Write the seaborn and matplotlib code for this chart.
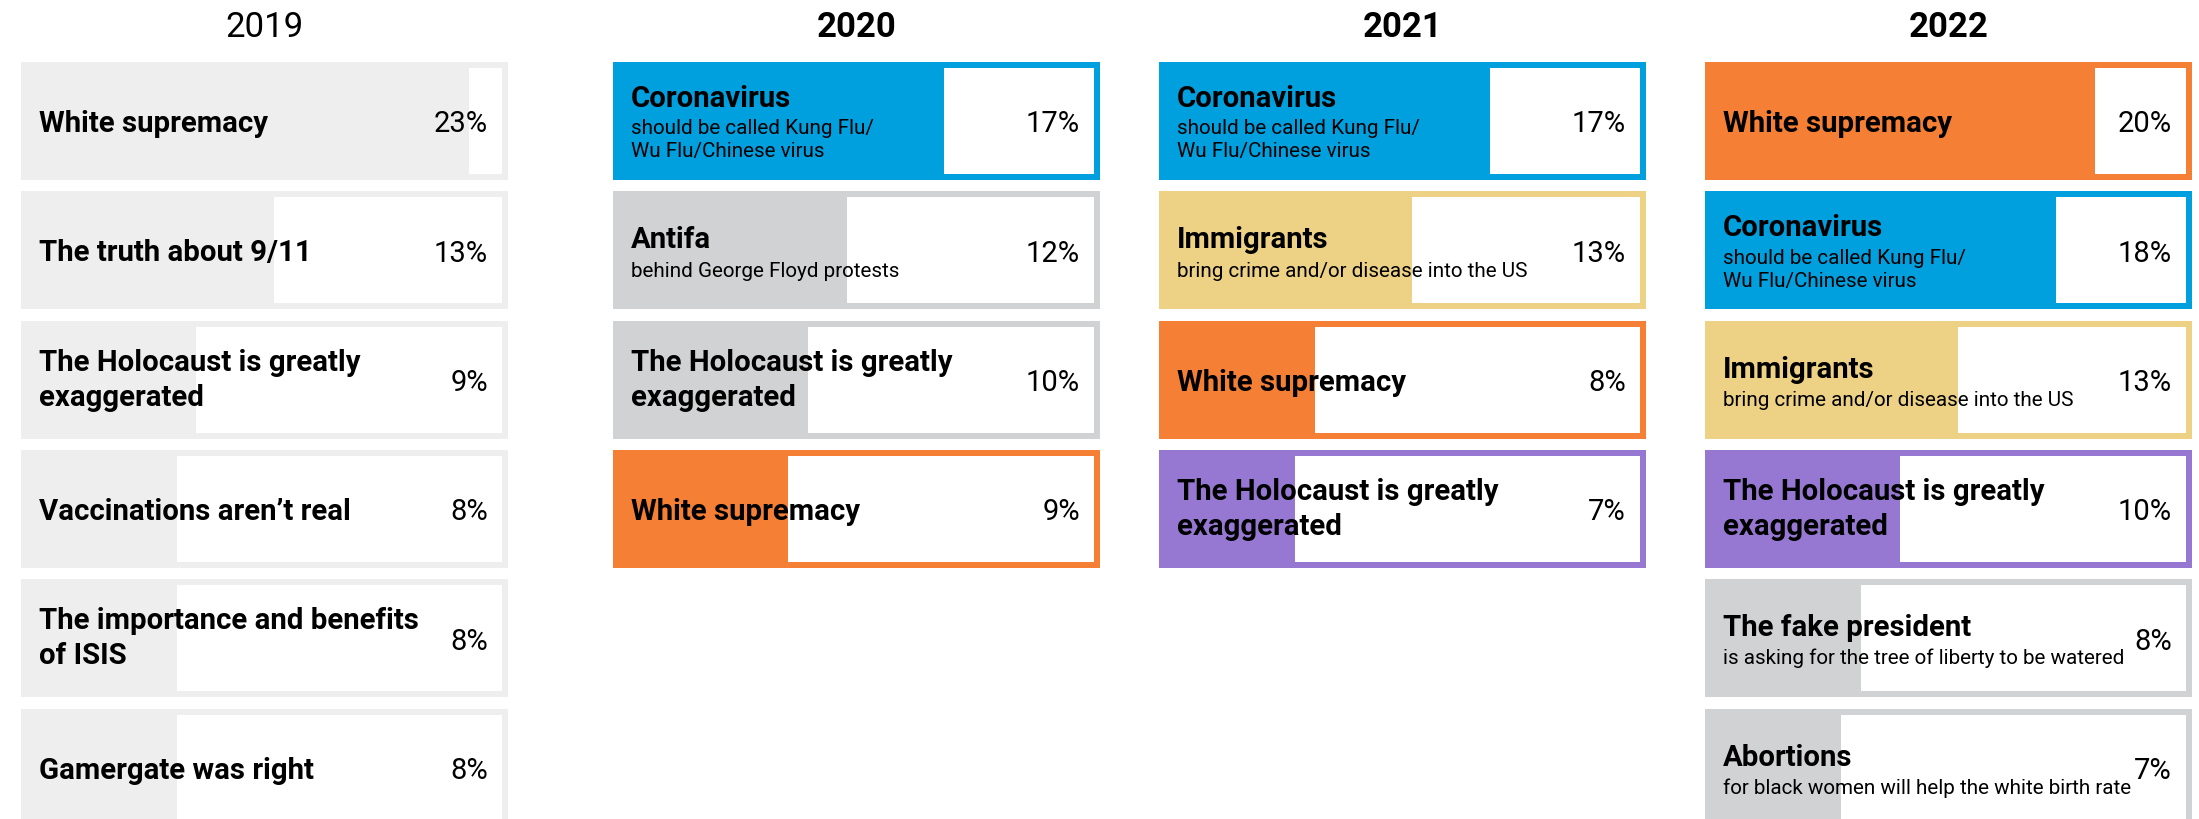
import matplotlib
matplotlib.use("Agg")
import matplotlib.pyplot as plt
import seaborn as sns
import pandas as pd

# ---------------- data ----------------
years = ["2019", "2020", "2021", "2022"]

titles_2019 = ["White supremacy", "The truth about 9/11",
               "The Holocaust is greatly\nexaggerated", "Vaccinations aren’t real",
               "The importance and benefits\nof ISIS", "Gamergate was right"]
subs_2019 = ["", "", "", "", "", ""]
values_2019 = [23, 13, 9, 8, 8, 8]

titles_2020 = ["Coronavirus", "Antifa", "The Holocaust is greatly\nexaggerated", "White supremacy"]
subs_2020 = ["should be called Kung Flu/\nWu Flu/Chinese virus", "behind George Floyd protests", "", ""]
values_2020 = [17, 12, 10, 9]

titles_2021 = ["Coronavirus", "Immigrants", "White supremacy", "The Holocaust is greatly\nexaggerated"]
subs_2021 = ["should be called Kung Flu/\nWu Flu/Chinese virus", "bring crime and/or disease into the US", "", ""]
values_2021 = [17, 13, 8, 7]

titles_2022 = ["White supremacy", "Coronavirus", "Immigrants",
               "The Holocaust is greatly\nexaggerated", "The fake president", "Abortions"]
subs_2022 = ["", "should be called Kung Flu/\nWu Flu/Chinese virus",
             "bring crime and/or disease into the US", "",
             "is asking for the tree of liberty to be watered",
             "for black women will help the white birth rate"]
values_2022 = [20, 18, 13, 10, 8, 7]

# ---------------- style ----------------
BLUE, ORANGE, TAN, PURPLE = "#00A0DF", "#F47F35", "#EDD184", "#9678D3"
GRAY, LIGHT = "#D1D2D4", "#EEEEEE"
colors_2019 = [LIGHT] * 6
colors_2020 = [BLUE, GRAY, GRAY, ORANGE]
colors_2021 = [BLUE, TAN, ORANGE, PURPLE]
colors_2022 = [ORANGE, BLUE, TAN, PURPLE, GRAY, GRAY]

sns.set_theme(style="white")
plt.rcParams["font.family"] = ["Roboto", "DejaVu Sans"]

FIG_W, FIG_H = 2199, 820
COL_LEFT = [21, 613, 1159, 1705]
COL_W = 487
XMAX = 25
PITCH = 129.3
BOX_H = 118
FIRST_CENTER = 122
INSET = 6

columns = [
    (years[0], titles_2019, subs_2019, values_2019, colors_2019, "normal"),
    (years[1], titles_2020, subs_2020, values_2020, colors_2020, "bold"),
    (years[2], titles_2021, subs_2021, values_2021, colors_2021, "bold"),
    (years[3], titles_2022, subs_2022, values_2022, colors_2022, "bold"),
]

fig = plt.figure(figsize=(FIG_W / 100, FIG_H / 100), dpi=100)
px_x = XMAX / COL_W  # data units per pixel (x)

for i, (year, titles, subs, vals, cols, yweight) in enumerate(columns):
    ax = fig.add_axes([COL_LEFT[i] / FIG_W, 0, COL_W / FIG_W, 1])
    n = len(vals)
    topics = [t.replace("\n", " ") for t in titles]
    df = pd.DataFrame({"topic": topics, "value": vals})
    sns.barplot(data=df, x="value", y="topic", hue="topic", hue_order=topics,
                order=topics, palette=cols, saturation=1, width=BOX_H / PITCH,
                errorbar=None, legend=False, ax=ax, orient="h", zorder=3,
                linewidth=0)
    pos = list(range(n))
    # box background (border colour) and white interior
    ax.barh(pos, [XMAX] * n, height=BOX_H / PITCH, color=cols, zorder=1, linewidth=0)
    ax.barh(pos, [XMAX - 2 * INSET * px_x] * n, left=INSET * px_x,
            height=(BOX_H - 2 * INSET) / PITCH, color="white", zorder=2, linewidth=0)

    xl = 18 * px_x
    xr = XMAX - 20 * px_x
    for j in range(n):
        tl = titles[j].split("\n")
        sl = subs[j].split("\n") if subs[j] else []
        if not sl:
            tc = [0] if len(tl) == 1 else [-20, 15]
            sc = []
        elif len(sl) == 1:
            tc, sc = [-13], [18]
        else:
            tc, sc = [-25], [5, 28]
        for line, c in zip(tl, tc):
            ax.text(xl, j + (c + 10.2) / PITCH, line, fontsize=21.2, fontweight="bold",
                    color="black", ha="left", va="baseline", zorder=5)
        for line, c in zip(sl, sc):
            ax.text(xl, j + (c + 7.3) / PITCH, line, fontsize=14.9,
                    color="black", ha="left", va="baseline", zorder=5)
        ax.text(xr, j + 10.3 / PITCH, f"{vals[j]}%", fontsize=21, color="black",
                ha="right", va="baseline", zorder=5)

    ax.text(XMAX / 2, (37 - FIRST_CENTER) / PITCH, year, fontsize=25,
            fontweight=yweight, color="black", ha="center", va="baseline")

    ax.set_xlim(0, XMAX)
    ax.set_ylim((FIG_H - FIRST_CENTER) / PITCH, -FIRST_CENTER / PITCH)
    ax.axis("off")

fig.savefig("out.png", dpi=100, facecolor="white")
